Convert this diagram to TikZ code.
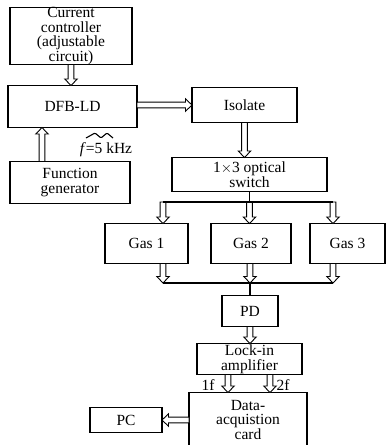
\documentclass[tikz,border=0pt]{standalone}
\usepackage{fontspec}
\setmainfont{Liberation Serif}
\usetikzlibrary{positioning, calc}

\begin{document}
\begin{tikzpicture}[
    x=1pt, y=-1pt,
    node distance=20pt and 20pt,
    block/.style={
        rectangle,
        draw=black,
        fill=white,
        line width=1.8pt,
        align=center,
        inner sep=0pt,
        outer sep=0pt,
        font=\fontsize{15.5}{14.5}\selectfont
    },
    tag/.style={inner sep=0pt, font=\fontsize{15.5}{14.5}\selectfont},
    joinline/.style={line width=1.3pt, draw=black},
    hollow/.style={
        draw=black, fill=white, line width=0.9pt,
        to path={
            let \p1=(\tikztostart), \p2=(\tikztotarget),
                \n1={atan2(scalar(\y2-\y1),scalar(\x2-\x1))},
                \n2={scalar(veclen(\x2-\x1,\y2-\y1))}
            in {[shift={(\p1)}, rotate=\n1, x=1pt, y=1pt]
                (0,-2.9) -- ({\n2-6.5},-2.9) -- ({\n2-6.5},-6.2) -- (\n2,0)
                -- ({\n2-6.5},6.2) -- ({\n2-6.5},2.9) -- (0,2.9) -- cycle}
            (\tikztotarget)
        }
    }
]
\useasboundingbox (0,0) rectangle (390,445);

\node[block, minimum width=122pt, minimum height=56pt] (ctrl) at (71,36) {
    Current\\controller\\(adjustable\\circuit)
};

\node[block, minimum width=129pt, minimum height=42pt, below=21pt of ctrl, xshift=1.5pt] (dfb) {DFB-LD};

\node[block, minimum width=120pt, minimum height=42pt, below=34pt of dfb, xshift=-2.5pt] (fgen) {
    Function\\generator
};

\node[block, minimum width=105pt, minimum height=35pt, right=55pt of dfb, yshift=1.5pt] (iso) {Isolate};

\node[block, minimum width=155pt, minimum height=34pt, below=35pt of iso, xshift=5pt] (switch) {
    1$\times$3 optical\\switch
};

\node[block, minimum width=80pt, minimum height=40pt, below=32pt of switch, xshift=1.5pt] (gas2) {Gas 2};
\node[block, minimum width=83pt, minimum height=40pt, left=23pt of gas2] (gas1) {Gas 1};
\node[block, minimum width=75pt, minimum height=40pt, right=19pt of gas2] (gas3) {Gas 3};

\node[block, minimum width=56pt, minimum height=31pt, below=32pt of gas2, xshift=-1pt] (pd) {PD};

\node[block, minimum width=105pt, minimum height=31pt, below=17pt of pd, xshift=-0.5pt] (lockin) {
    Lock-in\\amplifier
};

% card runs past the lower edge
\node[block, minimum width=118pt, minimum height=54pt, below=18pt of lockin, xshift=-1.5pt] (card) {
    Data-\\acquistion\\card
};

\node[block, minimum width=72pt, minimum height=25pt, left=27pt of card, yshift=-0.5pt] (pc) {PC};

% modulation
\draw[line width=1.1pt, rounded corners=1pt] (86,138) -- (95,133) -- (101,138) -- (107,133) -- (113,138);
\node[tag] (freq) at (106,150) {\textit{f}=5 kHz};

% laser side
\coordinate (fgout) at ([xshift=-28pt]fgen.north);
\draw[hollow] (ctrl.south) to (ctrl.south |- dfb.north);
\draw[hollow] (fgout) to (fgout |- dfb.south);
\draw[hollow] (iso.west -| dfb.east) to (iso.west);
\draw[hollow] (iso.south) to (iso.south |- switch.north);

% split to gas cells
\coordinate (splitL) at (163,202);
\coordinate (splitR) at (333,202);
\draw[hollow] (splitL) to (splitL |- gas1.north);
\draw[hollow] (switch.south |- splitL) to (switch.south |- gas2.north);
\draw[hollow] (splitR) to (splitR |- gas3.north);
\draw[joinline] (switch.south) -- (switch.south |- splitL);
\draw[joinline] (splitL) -- (splitR);

% merge to detector
\coordinate (mergeL) at (163,283);
\coordinate (mergeR) at (333,283);
\draw[hollow] (gas1.south -| mergeL) to (mergeL);
\draw[hollow] (gas2.south -| pd.north) to (pd.north |- mergeL);
\draw[hollow] (gas3.south -| mergeR) to (mergeR);
\draw[joinline] (mergeL) -- (mergeR);
\draw[joinline] (pd.north |- mergeL) -- (pd.north);

% detection
\coordinate (harm1) at ([xshift=-21.5pt]lockin.south);
\coordinate (harm2) at ([xshift=20.5pt]lockin.south);
\draw[hollow] (pd.south) to (pd.south |- lockin.north);
\draw[hollow] (harm1) to (harm1 |- card.north);
\draw[hollow] (harm2) to (harm2 |- card.north);
\node[tag] (lab1) at (208,385) {1f};
\node[tag] (lab2) at (283,385) {2f};
\draw[hollow] (card.west |- pc.east) to (pc.east);

\end{tikzpicture}
\end{document}
